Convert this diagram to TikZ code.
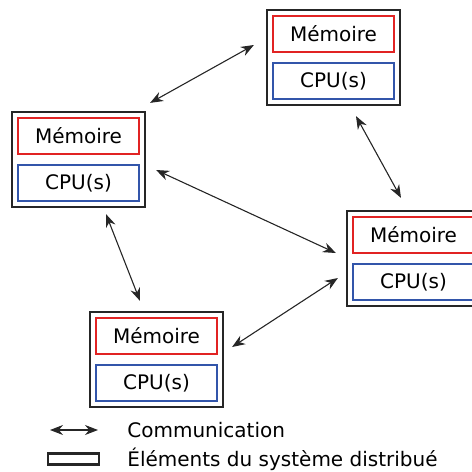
\documentclass[tikz,border=0pt]{standalone}
\usepackage{fontspec}
\setmainfont{DejaVu Sans}
\usepackage{tikz}
\usetikzlibrary{arrows.meta, positioning, calc}
\definecolor{memred}{RGB}{225,35,35}
\definecolor{cpublue}{RGB}{50,85,170}

\begin{document}
\begin{tikzpicture}[x=0.5pt, y=-0.5pt,
    sysbox/.style={draw=black!85, line width=1.1pt, minimum width=66.5pt, minimum height=47.5pt, inner sep=0pt},
    membox/.style={draw=memred, line width=0.9pt, minimum width=60.5pt, minimum height=18pt, inner sep=0pt},
    cpubox/.style={draw=cpublue, line width=0.9pt, minimum width=60.5pt, minimum height=18pt, inner sep=0pt},
    comm/.style={line width=0.55pt, black!85, {Stealth[length=6.5pt,width=5pt]}-{Stealth[length=6.5pt,width=5pt]}},
    legbox/.style={draw=black!85, line width=1.1pt, minimum width=25.5pt, minimum height=5.5pt, inner sep=0pt}]
\useasboundingbox (0,0) rectangle (472,472);
% Machines of the distributed system
\foreach \n/\x/\y in {top/333.5/57.5, left/78.5/159.5, right/413.5/258.5, bot/156.5/359.5} {
    \node[sysbox] (\n) at (\x,\y) {};
    \node[membox, below=3pt of \n.north] (\n-mem) {Mémoire};
    \node[cpubox, above=3pt of \n.south] (\n-cpu) {CPU(s)};
}
% Communication links
\draw[comm] ([shift={(4,-8)}]left.north east) -- ([shift={(-12,-12.5)}]top.west);
\draw[comm] ([shift={(22.5,10)}]top.south) -- ([shift={(-12.5,-12)}]right.north);
\draw[comm] ([shift={(10,10.5)}]left.east) -- ([shift={(-10,-5.5)}]right.west);
\draw[comm] ([shift={(27.5,6)}]left.south) -- ([shift={(-16.5,-10)}]bot.north);
\draw[comm] ([shift={(8,-12.5)}]bot.east) -- ([shift={(-8,19.5)}]right.west);
% Legend
\coordinate (legA) at (50,430);
\coordinate (legB) at (98,430);
\draw[comm] (legA) -- (legB);
\node[anchor=west, inner sep=0pt] (legcomm) at (127,430) {Communication};
\node[legbox] (legrect) at (73.5,459) {};
\node[anchor=west, inner sep=0pt] (legsys) at (127,459) {Éléments du système distribué};
\end{tikzpicture}
\end{document}
